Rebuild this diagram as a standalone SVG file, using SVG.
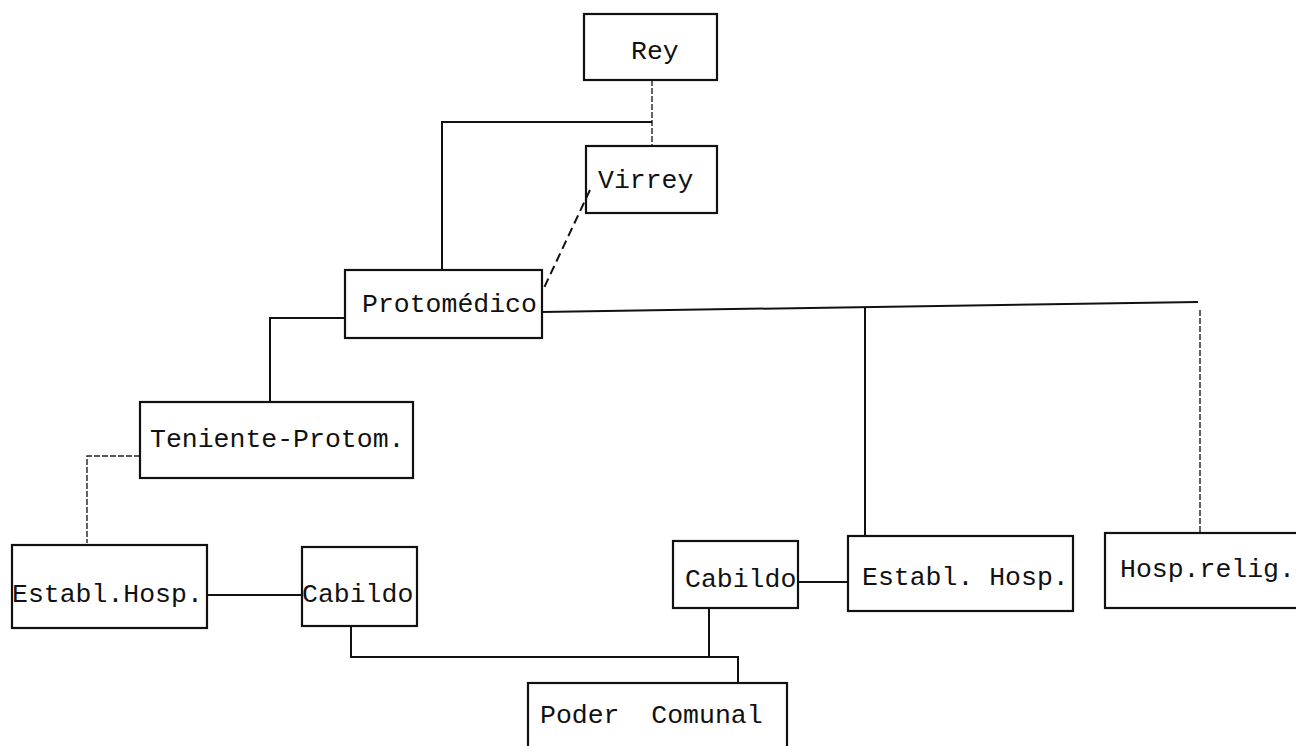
<svg xmlns="http://www.w3.org/2000/svg" width="1296" height="746" viewBox="0 0 1296 746">
<style>
.box{fill:none;stroke:#111;stroke-width:2.2}
.lbl{font-family:"Liberation Mono","DejaVu Sans Mono",monospace;font-size:26.5px;fill:#111;white-space:pre}
.ln{fill:none;stroke:#111;stroke-width:2}
.dash{fill:none;stroke:#111;stroke-width:2;stroke-dasharray:9 5}
.thin{fill:none;stroke:#222;stroke-width:1.4;stroke-dasharray:6 2}
</style>
<rect width="1296" height="746" fill="#fff"/>
<g id="connectors">
<path class="thin" d="M652 80 V146"/>
<path class="ln" d="M652 122 H442 V270"/>
<path class="dash" d="M590 190 L543 290"/>
<path class="ln" d="M345 318 H270 V402"/>
<path class="ln" d="M542 312 L1198 302"/>
<path class="ln" d="M865 308 V536"/>
<path class="thin" d="M1200 310 V533"/>
<path class="thin" d="M140 456 H87 V543"/>
<path class="ln" d="M207 595 H302"/>
<path class="ln" d="M798 582 H848"/>
<path class="ln" d="M351 626 V657 H738 V683"/>
<path class="ln" d="M709 608 V657"/>
</g>
<g id="rey"><rect class="box" x="584" y="14" width="133" height="66"/><text class="lbl" x="631" y="59">Rey</text></g>
<g id="virrey"><rect class="box" x="586" y="146" width="131" height="67"/><text class="lbl" x="598" y="188">Virrey</text></g>
<g id="protomedico"><rect class="box" x="345" y="270" width="197" height="68"/><text class="lbl" x="362" y="312">Protomédico</text></g>
<g id="teniente"><rect class="box" x="140" y="402" width="273" height="76"/><text class="lbl" x="150" y="447">Teniente-Protom.</text></g>
<g id="establ-left"><rect class="box" x="12" y="545" width="195" height="83"/><text class="lbl" x="12" y="602">Establ.Hosp.</text></g>
<g id="cabildo-left"><rect class="box" x="302" y="547" width="115" height="79"/><text class="lbl" x="302" y="602">Cabildo</text></g>
<g id="cabildo-right"><rect class="box" x="673" y="541" width="125" height="67"/><text class="lbl" x="685" y="587">Cabildo</text></g>
<g id="establ-right"><rect class="box" x="848" y="536" width="225" height="75"/><text class="lbl" x="862" y="585">Establ. Hosp.</text></g>
<g id="hosp-relig"><rect class="box" x="1105" y="533" width="200" height="75"/><text class="lbl" x="1120" y="577">Hosp.relig.</text></g>
<g id="poder-comunal"><rect class="box" x="528" y="683" width="259" height="80"/><text class="lbl" x="540" y="723" xml:space="preserve">Poder  Comunal</text></g>
</svg>
